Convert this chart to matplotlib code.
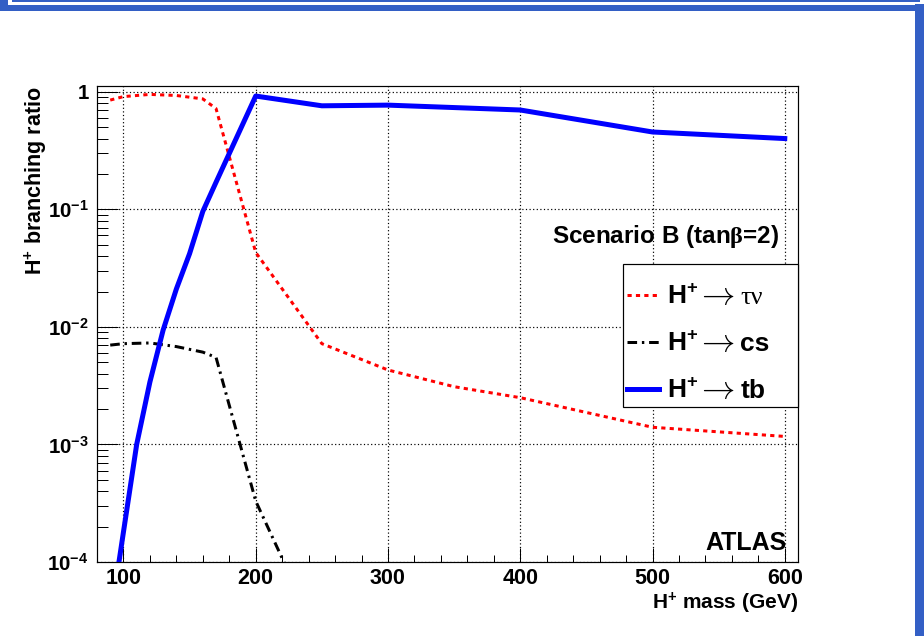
import matplotlib
matplotlib.use("Agg")
import matplotlib.pyplot as plt
from matplotlib.patches import Rectangle
from matplotlib.ticker import MultipleLocator, LogLocator, FixedLocator, FixedFormatter, NullFormatter

plt.rcParams['font.family'] = ['Liberation Sans', 'DejaVu Sans']
plt.rcParams['font.weight'] = 'bold'
plt.rcParams['mathtext.fontset'] = 'custom'
plt.rcParams['mathtext.rm'] = 'Liberation Serif'
plt.rcParams['mathtext.bf'] = 'Liberation Sans:bold'
plt.rcParams['mathtext.it'] = 'Liberation Sans:bold'

# H+ branching ratios, Scenario B (tan beta = 2)
mass_taunu = [90, 100, 120, 140, 160, 170, 200, 250, 300, 350, 400, 500, 600]
br_taunu = [0.85, 0.91, 0.95, 0.93, 0.87, 0.72, 0.043, 0.0072, 0.0043, 0.0031, 0.0025, 0.0014, 0.00117]

mass_cs = [90, 100, 120, 140, 160, 170, 200, 250]
br_cs = [0.0070, 0.0072, 0.0073, 0.0068, 0.0061, 0.0055, 3.3e-4, 2.0e-5]

mass_tb = [90, 100, 110, 120, 130, 140, 150, 160, 170, 200, 250, 300, 400, 500, 600]
br_tb = [3.2e-5, 1.8e-4, 1.0e-3, 3.4e-3, 9.4e-3, 0.021, 0.042, 0.096, 0.17, 0.92, 0.76, 0.77, 0.70, 0.455, 0.40]

x_ticks = [100, 200, 300, 400, 500, 600]
y_ticks = [1e-4, 1e-3, 1e-2, 1e-1, 1]
y_labels = [r'$\mathbf{10^{-4}}$', r'$\mathbf{10^{-3}}$', r'$\mathbf{10^{-2}}$', r'$\mathbf{10^{-1}}$', '1']

hplus = r'H$^{\mathbf{+}}$'
# legend: "H+" part, then arrow, then decay products
decay = ['τν', 'cs', 'tb']
decay_font = [dict(family='Liberation Serif', weight='normal'),
              dict(weight='bold'), dict(weight='bold')]

W, H = 924, 636
fig = plt.figure(figsize=(W / 100, H / 100), dpi=100)
ax = fig.add_axes([97 / W, 1 - 562 / H, 701 / W, 476 / H])

px = 72 / 100  # points per pixel

l1, = ax.plot(mass_taunu, br_taunu, color='#ff0000', lw=3 * px,
              linestyle=(0, (1.4, 1.4)), zorder=3)
l2, = ax.plot(mass_cs, br_cs, color='black', lw=3 * px,
              linestyle=(0, (3.2, 1.6, 0.8, 1.6)), zorder=3)
l3, = ax.plot(mass_tb, br_tb, color='#0000ff', lw=5 * px, zorder=4)

ax.set_yscale('log')
ax.set_xlim(80, 610)
ax.set_ylim(1e-4, 1.12)

ax.xaxis.set_major_locator(FixedLocator(x_ticks))
ax.xaxis.set_minor_locator(MultipleLocator(20))
ax.yaxis.set_major_locator(FixedLocator(y_ticks))
ax.yaxis.set_major_formatter(FixedFormatter(y_labels))
ax.yaxis.set_minor_locator(LogLocator(base=10, subs=range(2, 10)))
ax.yaxis.set_minor_formatter(NullFormatter())

ax.tick_params(which='both', direction='in', width=1 * px, color='black')
ax.tick_params(axis='x', which='major', length=14 * px, pad=4, labelsize=15.5)
ax.tick_params(axis='x', which='minor', length=7 * px)
ax.tick_params(axis='y', which='major', length=21 * px, pad=6, labelsize=14.8)
ax.tick_params(axis='y', which='minor', length=11 * px)
for lab in ax.get_xticklabels() + ax.get_yticklabels():
    lab.set_fontweight('bold')

for s in ax.spines.values():
    s.set_linewidth(1.2 * px)

ax.grid(which='major', color='black', linestyle=(0, (1, 2)), linewidth=1.2 * px, zorder=1)
ax.set_axisbelow(True)

ax.set_ylabel(hplus + ' branching ratio', fontsize=15.5, fontweight='bold')
ax.yaxis.set_label_coords(-74 / 701, 1.0)
ax.yaxis.label.set_horizontalalignment('right')
ax.yaxis.label.set_verticalalignment('top')
ax.set_xlabel(hplus + ' mass (GeV)', fontsize=15, fontweight='bold')
ax.xaxis.set_label_coords(1.0, -29 / 476)
ax.xaxis.label.set_horizontalalignment('right')

ax.text((779 - 97) / 701, (562 - 237) / 476, r'Scenario B (tan$\mathrm{\beta}$=2)',
        fontsize=17.5, fontweight='bold', ha='right', va='center', transform=ax.transAxes)
ax.text((787 - 97) / 701, (562 - 543) / 476, 'ATLAS', fontsize=18, fontweight='bold',
        ha='right', va='center', transform=ax.transAxes)

# legend box
ax.add_patch(Rectangle(((623 - 97) / 701, (562 - 407) / 476), (798 - 623) / 701, (407 - 264) / 476,
                       transform=ax.transAxes, facecolor='white', edgecolor='black',
                       linewidth=1.2 * px, zorder=5, clip_on=False))
leg = ax.legend([l1, l2, l3], [hplus] * 3, loc='upper left',
                bbox_to_anchor=((627 - 97) / 701, (562 - 285) / 476),
                frameon=False, fontsize=19, handlelength=1.2, handletextpad=0.3,
                labelspacing=0.85, borderpad=0, borderaxespad=0)
leg.set_zorder(6)

fig.canvas.draw()
for txt, word, kw in zip(leg.get_texts(), decay, decay_font):
    bb = txt.get_window_extent()
    base = txt.get_transform().transform((0, 0))[1]
    arr = fig.text((bb.x1 - 2) / W, base / H, r'$\rightarrow$', fontsize=24,
                   math_fontfamily='cm', va='baseline', zorder=7)
    fig.canvas.draw()
    ab = arr.get_window_extent()
    fig.text((ab.x1 + 5) / W, base / H, word, fontsize=19, va='baseline', zorder=7, **kw)

# slide frame decoration
blue = '#335fc5'
fig.patches.append(Rectangle((12 / W, 1 - 2 / H), 908 / W, 2 / H, transform=fig.transFigure,
                             facecolor=blue, edgecolor='none'))
fig.patches.append(Rectangle((0, 1 - 10.5 / H), 1, 6 / H, transform=fig.transFigure,
                             facecolor=blue, edgecolor='none'))
fig.patches.append(Rectangle((0, 1 - 10.5 / H), 8 / W, 10.5 / H, transform=fig.transFigure,
                             facecolor=blue, edgecolor='none'))
fig.patches.append(Rectangle((915 / W, 0), 9 / W, 1 - 4 / H, transform=fig.transFigure,
                             facecolor=blue, edgecolor='none'))

fig.savefig('out.png', dpi=100)
